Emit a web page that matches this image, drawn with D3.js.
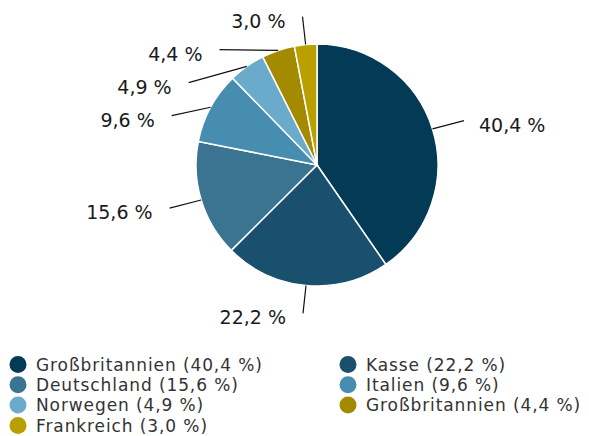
<!DOCTYPE html>
<html>
<head>
<meta charset="utf-8">
<script src="https://cdn.jsdelivr.net/npm/d3@7"></script>
<style>
  body { margin: 0; background: #fff; }
  text { font-family: "DejaVu Sans", sans-serif; }
</style>
</head>
<body>
<svg></svg>
<script>
//SET UP THE CANVAS
var w = 589;
var h = 436;
var cx = 317, cy = 165;
var rad = 121;
var labelRx = 154, labelRy = 149;

var svg = d3.select("svg")
     .attr("width", w)
     .attr("height", h);

//DATA
var countries = ["Großbritannien", "Kasse", "Deutschland", "Italien", "Norwegen", "Großbritannien", "Frankreich"];
var shares = [40.4, 22.2, 15.6, 9.6, 4.9, 4.4, 3.0];
var colors = ["#033b57", "#19506d", "#3a7491", "#478db0", "#6aabcb", "#a48a00", "#b9a000"];

var pieData = shares.map(function (d, i) {
     return { name: countries[i], value: d, color: colors[i] };
});

var fmt = function (v) { return d3.format(".1f")(v).replace(".", ",") + " %"; };

//PIE
var pie = d3.pie().sort(null).value(function (d) { return d.value; });
var arcs = pie(pieData);
var arcMaker = d3.arc().innerRadius(0).outerRadius(rad);

var g = svg.append("g")
     .attr("transform", "translate(" + cx + "," + cy + ")");

g.selectAll("path.slice")
     .data(arcs)
     .enter()
     .append("path")
     .attr("class", "slice")
     .attr("d", arcMaker)
     .attr("fill", function (d) { return d.data.color; })
     .attr("stroke", "#fff")
     .attr("stroke-width", 1.5);

//LABEL LAYOUT (push overlapping labels apart, keep them on an ellipse)
var minGap = 33;
arcs.forEach(function (d) {
     var a = (d.startAngle + d.endAngle) / 2;
     d.sx = Math.sin(a) * rad;
     d.sy = -Math.cos(a) * rad;
     d.ex = Math.sin(a) * labelRx;
     d.ey = -Math.cos(a) * labelRy;
     d.right = Math.sin(a) >= 0;
});
var leftSide = arcs.filter(function (d) { return !d.right; })
     .sort(function (a, b) { return a.ey - b.ey; });
var prev = null;
leftSide.forEach(function (d) {
     if (prev !== null && d.ey < prev + minGap) {
          d.ey = prev + minGap;
          var t = d.ey / labelRy;
          d.ex = -labelRx * Math.sqrt(Math.max(1 - t * t, 0));
     }
     prev = d.ey;
});

g.selectAll("line.leader")
     .data(arcs)
     .enter()
     .append("line")
     .attr("class", "leader")
     .attr("x1", function (d) { return d.sx; })
     .attr("y1", function (d) { return d.sy; })
     .attr("x2", function (d) { return d.ex; })
     .attr("y2", function (d) { return d.ey; })
     .attr("stroke", "#111")
     .attr("stroke-width", 1.2);

g.selectAll("text.lbl")
     .data(arcs)
     .enter()
     .append("text")
     .attr("class", "lbl")
     .attr("x", function (d) { return d.right ? d.ex + 15 : d.ex - 17; })
     .attr("y", function (d) { return d.ey + 11; })
     .attr("text-anchor", function (d) { return d.right ? "start" : "end"; })
     .attr("font-size", 19)
     .attr("fill", "#1a1a1a")
     .text(function (d) { return fmt(d.data.value); });

//LEGEND (two columns, items go left-right then down)
var colX = [18, 348];
var rowY = d3.scaleLinear().domain([0, 1]).range([364.5, 384.8]);

svg.selectAll("circle.key")
     .data(pieData)
     .enter()
     .append("circle")
     .attr("class", "key")
     .attr("cx", function (d, i) { return colX[i % 2]; })
     .attr("cy", function (d, i) { return rowY(Math.floor(i / 2)); })
     .attr("r", 8.5)
     .attr("fill", function (d) { return d.color; });

svg.selectAll("text.key")
     .data(pieData)
     .enter()
     .append("text")
     .attr("class", "key")
     .attr("x", function (d, i) { return colX[i % 2] + 18; })
     .attr("y", function (d, i) { return rowY(Math.floor(i / 2)) + 6.3; })
     .attr("font-size", 17)
     .attr("letter-spacing", 0.9)
     .attr("fill", "#333")
     .text(function (d) { return d.name + " (" + fmt(d.value) + ")"; });
</script>
</body>
</html>
